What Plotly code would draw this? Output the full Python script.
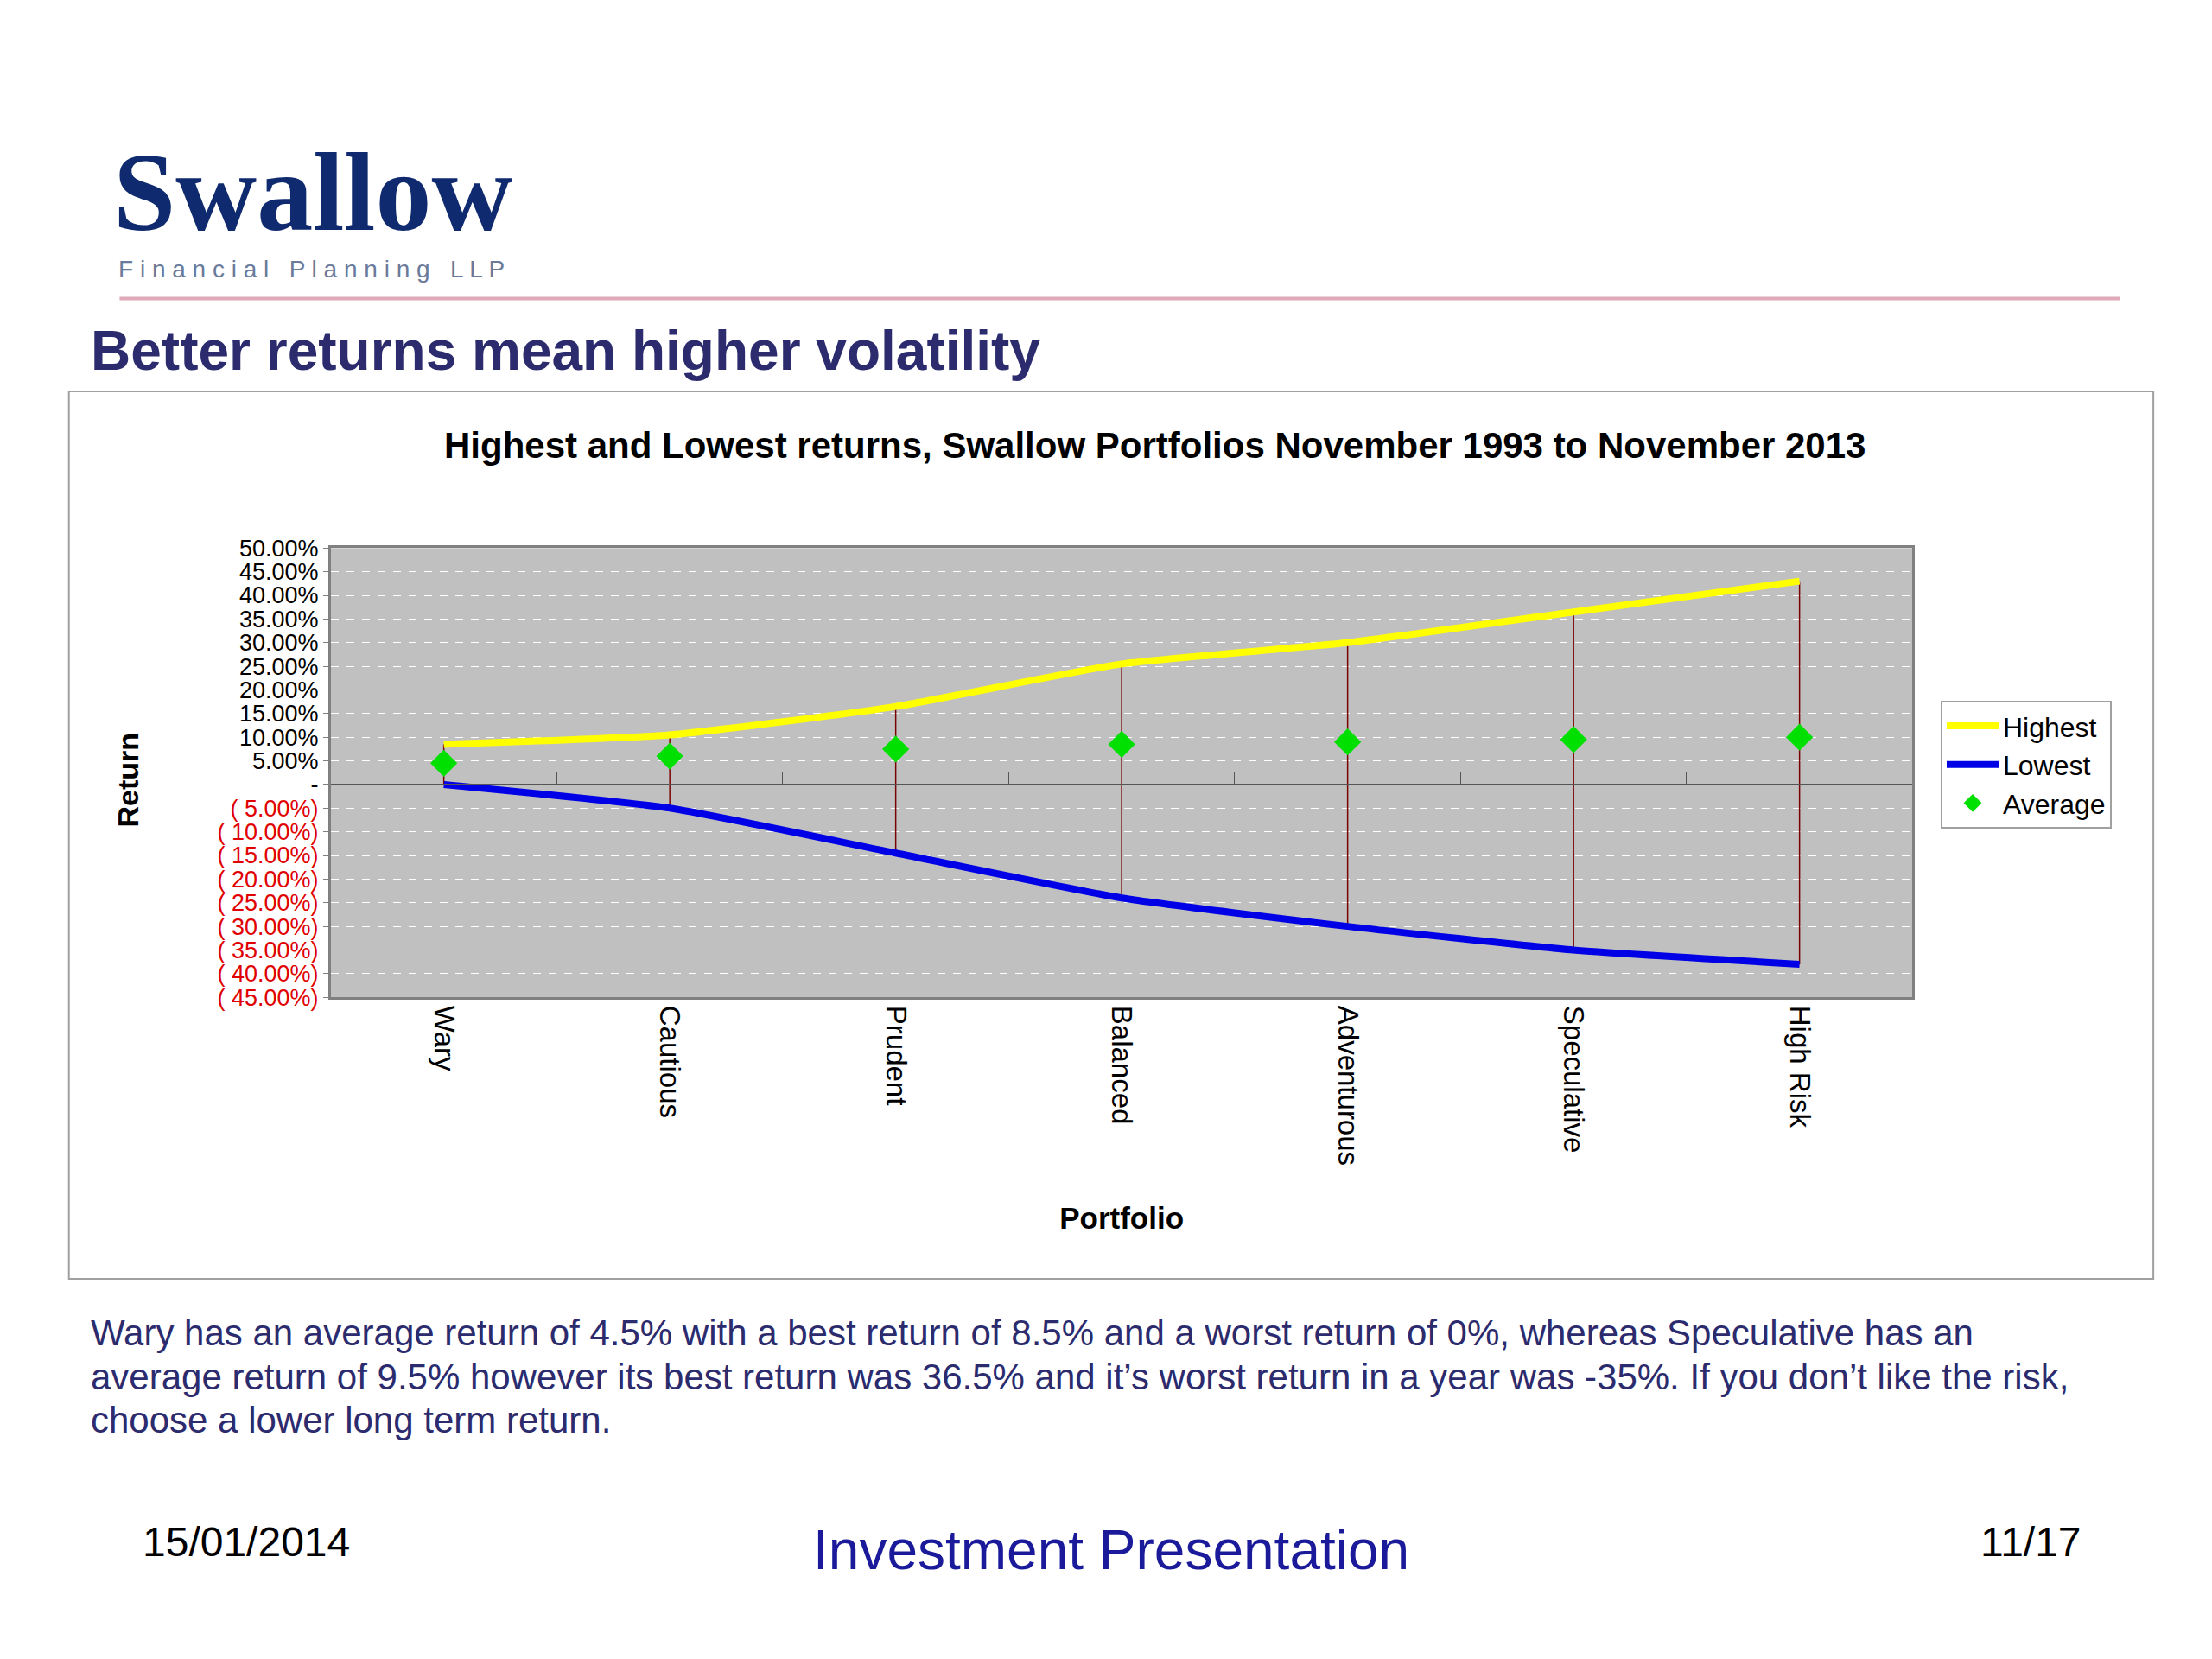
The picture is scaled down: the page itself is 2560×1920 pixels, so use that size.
import plotly.graph_objects as go

portfolios = ["Wary", "Cautious", "Prudent", "Balanced", "Adventurous", "Speculative", "High Risk"]
highest = [8.5, 10.5, 16.5, 25.5, 30.0, 36.5, 43.0]
lowest = [0.0, -5.0, -14.5, -24.0, -30.0, -35.0, -38.0]
average = [4.5, 6.0, 7.5, 8.5, 9.0, 9.5, 10.0]
ytick_vals = list(range(-45, 55, 5))

W, H = 2560, 1920
S = 1.63  # reference-picture px -> output px
YMIN, YMAX = -45, 50
XD = [230 * S / W, 1353 * S / W]
YD = [1 - 705 * S / H, 1 - 381 * S / H]

def tick_label(v):
    if v == 0:
        return "-"
    if v < 0:
        return f"<span style='color:#e00000'>( {abs(v):.2f}%)</span>"
    return f"{v:.2f}%"

fig = go.Figure()
xs = list(range(len(portfolios)))
for i, (hi, lo) in enumerate(zip(highest, lowest)):
    fig.add_trace(go.Scatter(x=[i, i], y=[lo, hi], mode="lines",
                             line=dict(color="#7a0000", width=1.5),
                             showlegend=False, hoverinfo="skip"))
fig.add_trace(go.Scatter(x=xs, y=highest, mode="lines", name="Highest",
                         line=dict(color="#ffff00", width=8, shape="spline", smoothing=0.5)))
fig.add_trace(go.Scatter(x=xs, y=lowest, mode="lines", name="Lowest",
                         line=dict(color="#0000e6", width=8, shape="spline", smoothing=0.5)))
fig.add_trace(go.Scatter(x=xs, y=average, mode="markers", name="Average",
                         marker=dict(symbol="diamond", color="#00e000", size=24)))

zero_frac = YD[0] + (YD[1] - YD[0]) * (0 - YMIN) / (YMAX - YMIN)

fig.update_layout(
    width=W, height=H, paper_bgcolor="white", plot_bgcolor="#c0c0c0",
    margin=dict(l=0, r=0, t=0, b=0),
    font=dict(family="Liberation Sans, Arial", color="black"),
    xaxis=dict(domain=XD, range=[-0.5, 6.5], tickvals=xs, ticktext=portfolios,
               tickangle=90, tickfont=dict(size=33), showgrid=False, zeroline=False,
               showline=True, linecolor="#808080", linewidth=3, mirror=True, ticks="",
               title=dict(text="<b>Portfolio</b>", font=dict(size=35), standoff=50)),
    xaxis2=dict(overlaying="x", anchor="free", position=zero_frac, range=[-0.5, 6.5],
                tickvals=[0.5, 1.5, 2.5, 3.5, 4.5, 5.5], ticks="inside", ticklen=14,
                tickcolor="#555555", showticklabels=False, showgrid=False,
                showline=True, linecolor="#555555", linewidth=2, zeroline=False),
    yaxis=dict(domain=YD, range=[YMIN, YMAX], tickvals=ytick_vals,
               ticktext=[tick_label(v) for v in ytick_vals], tickfont=dict(size=27),
               showgrid=True, gridcolor="white", griddash="dash", gridwidth=1,
               zeroline=False, showline=True, linecolor="#808080", linewidth=3, mirror=True,
               ticks="outside", ticklen=6, tickcolor="#808080"),
    legend=dict(x=1373 * S / W, y=1 - 491 * S / H, xanchor="left", yanchor="top",
                bgcolor="white", bordercolor="#a0a0a0", borderwidth=2,
                font=dict(size=32), itemwidth=60, tracegroupgap=8),
)
fig.add_trace(go.Scatter(x=[0], y=[0], xaxis="x2", mode="markers",
                         marker=dict(opacity=0), showlegend=False, hoverinfo="skip"))

shapes = [
    dict(type="rect", xref="paper", yref="paper", x0=44 * S / W, x1=1524 * S / W,
         y0=1 - 908 * S / H, y1=1 - 268 * S / H, line=dict(color="#a0a0a0", width=2), layer="below"),
    dict(type="line", xref="paper", yref="paper", x0=80 * S / W, x1=1500 * S / W,
         y0=1 - 201 * S / H, y1=1 - 201 * S / H, line=dict(color="#e0a8b8", width=4)),
]
fig.update_layout(shapes=shapes)

navy = "#2b2b6e"
def ann(text, x, y, size, color="black", xanchor="left", yanchor="middle", angle=0, family=None):
    d = dict(text=text, x=x * S / W, y=1 - y * S / H, xref="paper", yref="paper", showarrow=False,
             xanchor=xanchor, yanchor=yanchor, textangle=angle,
             font=dict(size=size, color=color))
    if family:
        d["font"]["family"] = family
    fig.add_annotation(**d)

ann("<b>Swallow</b>", 74, 124, 130, color="#0f2a6e", family="Liberation Serif")
ann("F i n a n c i a l   P l a n n i n g   L L P", 78, 180, 28, color="#6a7a9a")
ann("<b>Better returns mean higher volatility</b>", 58, 239, 64, color=navy)
ann("<b>Highest and Lowest returns, Swallow Portfolios November 1993 to November 2013</b>",
    815, 307, 42, xanchor="center")
ann("<b>Return</b>", 86, 548, 34, xanchor="center", angle=-90)
para = ["Wary has an average return of 4.5% with a best return of 8.5% and a worst return of 0%, whereas Speculative has an",
        "average return of 9.5% however its best return was 36.5% and it\u2019s worst return in a year was -35%. If you don\u2019t like the risk,",
        "choose a lower long term return."]
for i, line in enumerate(para):
    ann(line, 58, 947 + i * 31.5, 42, color=navy)
ann("15/01/2014", 95, 1098, 48)
ann("Investment Presentation", 784, 1104, 64, color="#1a1a9a", xanchor="center")
ann("11/17", 1437, 1098, 48, xanchor="center")

fig.write_html("out.html")
